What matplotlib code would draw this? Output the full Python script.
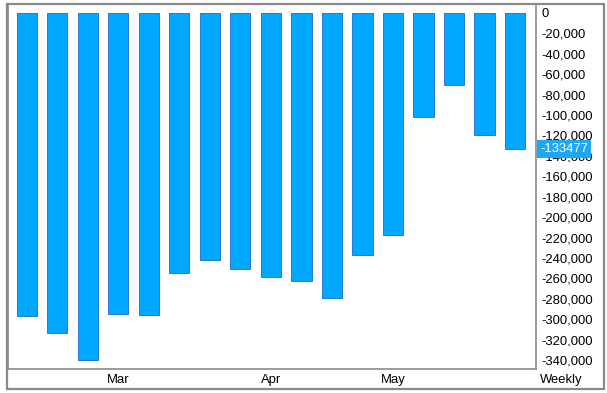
import matplotlib
matplotlib.use('Agg')
import matplotlib.pyplot as plt
from matplotlib.patches import Rectangle

# weekly values
values = [-297000, -313500, -340000, -295000, -296000, -254500, -242000, -250500,
          -258500, -262500, -279000, -237000, -217500, -102000, -70500, -119500, -133477]
month_pos = [3, 8, 12]
month_labels = ['Mar', 'Apr', 'May']
yticks = list(range(0, -340001, -20000))

plt.rcParams['font.family'] = ['Liberation Sans', 'DejaVu Sans']

W, H = 607, 393
fig = plt.figure(figsize=(W / 100, H / 100), dpi=100)

def fx(px):
    return px / W

def fy(py):
    return 1 - py / H

gray = '#8a8a8a'
fs = 9.4

# plot area
ax = fig.add_axes([fx(8), fy(369), fx(536) - fx(8), fy(4) - fy(369)])
x = list(range(len(values)))
ax.bar(x, values, width=0.66, color='#00a8ff', edgecolor='#2a78d0', linewidth=0.7)
ax.set_xlim(-0.62, 16.69)
ax.set_ylim(-348800, 8800)
ax.set_xticks([])
ax.set_yticks([])
for s in ax.spines.values():
    s.set_color(gray)
    s.set_linewidth(1.2)

# right-hand value labels
ax2 = ax.twinx()
ax2.set_ylim(ax.get_ylim())
ax2.set_yticks(yticks)
ax2.set_yticklabels([f'{v:,}' for v in yticks], fontsize=fs)
ax2.tick_params(axis='y', length=0, pad=4)
for s in ax2.spines.values():
    s.set_visible(False)

# last value marker
last = values[-1]
ax2.annotate(str(last), xy=(1, last), xycoords=('axes fraction', 'data'),
             xytext=(3, 0), textcoords='offset points', va='center', ha='left',
             fontsize=fs, color='white',
             bbox=dict(boxstyle='square,pad=0.25', fc='#1ea7f5', ec='none'))

# bottom strip with month labels
axb = fig.add_axes([fx(8), fy(389), fx(536) - fx(8), fy(369) - fy(389)])
axb.set_xlim(ax.get_xlim())
axb.set_ylim(0, 1)
axb.axis('off')
for p, lab in zip(month_pos, month_labels):
    axb.text(p, 0.45, lab, ha='center', va='center', fontsize=fs)
fig.text(fx(540), fy(380), 'Weekly', ha='left', va='center', fontsize=fs)

# outer frame
fig.add_artist(Rectangle((fx(7), fy(389)), fx(604) - fx(7), fy(4) - fy(389),
                         transform=fig.transFigure, fill=False, ec=gray, lw=1.6))

fig.savefig('out.png', dpi=100)
